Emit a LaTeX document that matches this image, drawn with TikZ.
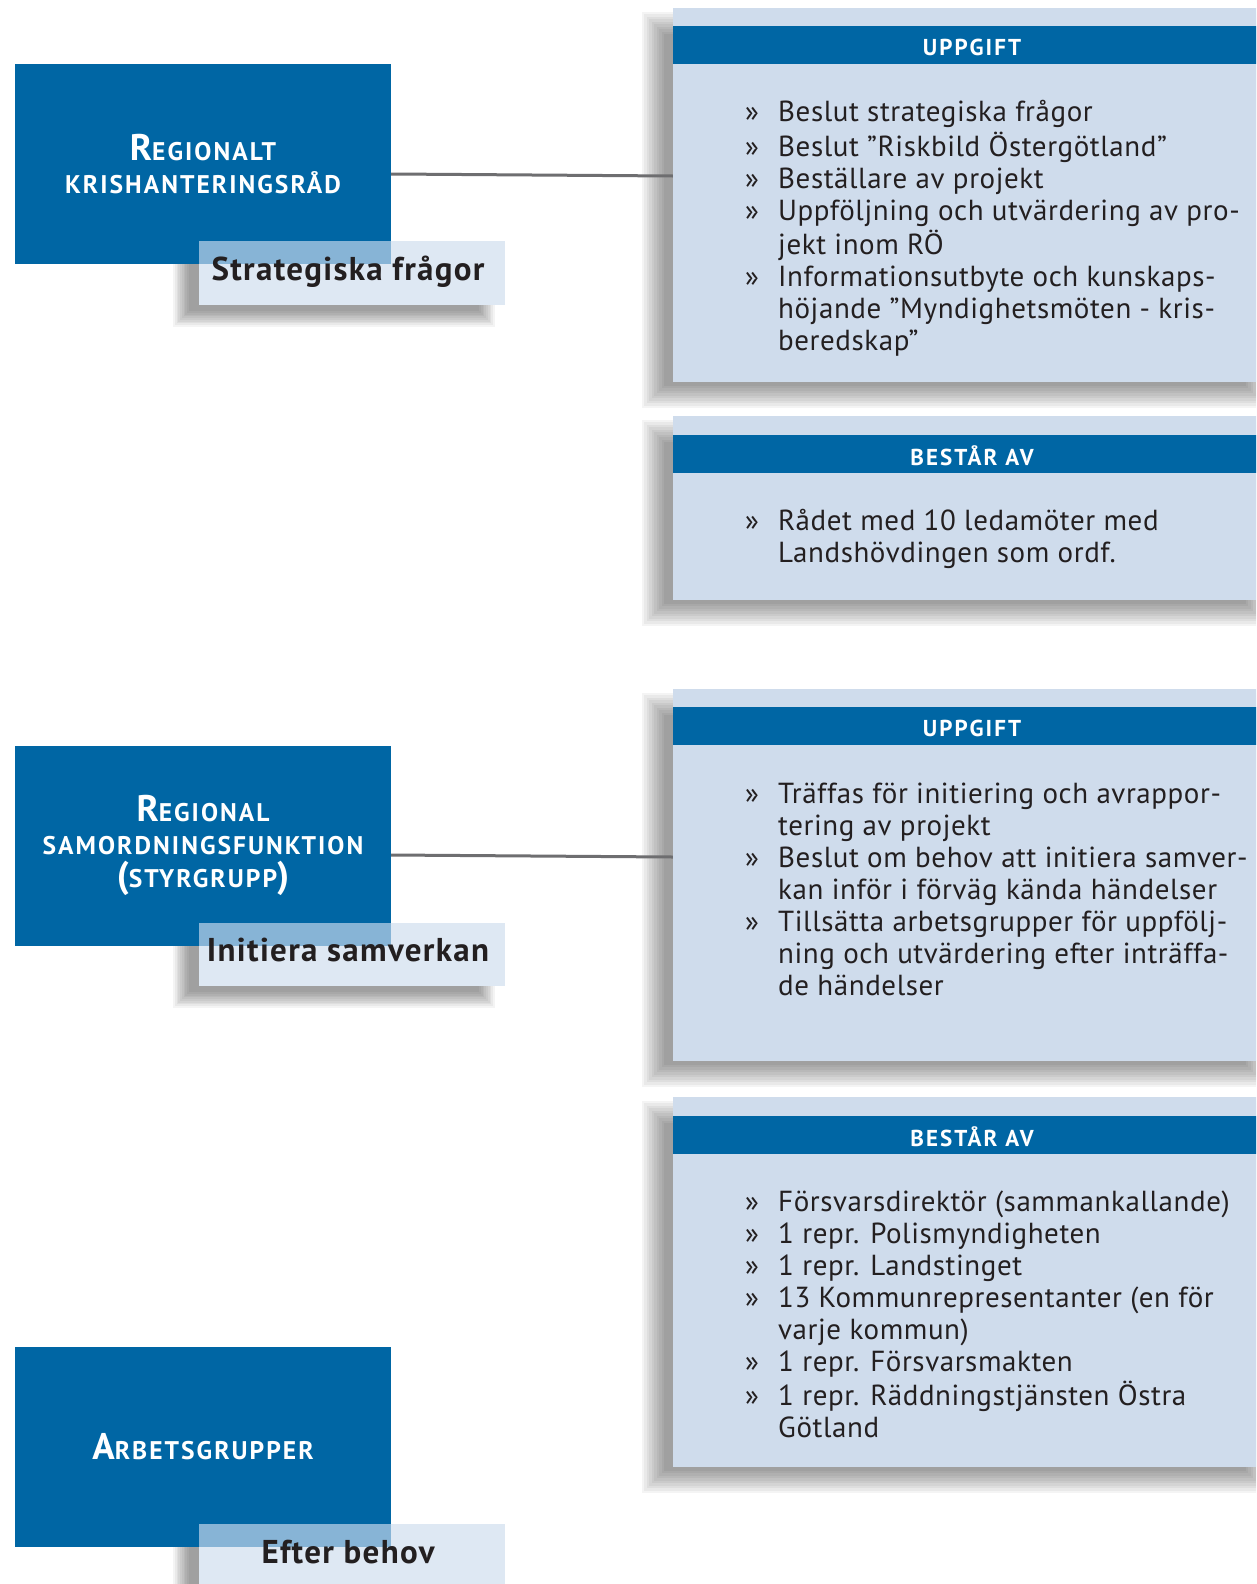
\documentclass[tikz,border=0pt]{standalone}
\usepackage{fontspec}
\setmainfont{PT Sans}[LetterSpace=2]
\newfontfamily\titlefont{PT Sans}[LetterSpace=8]
\newfontfamily\headfont{PT Sans}[LetterSpace=9]
\newfontfamily\labelfont{PT Sans}[LetterSpace=4]
\definecolor{kblue}{RGB}{0,102,164}
\definecolor{kpanel}{RGB}{207,220,236}
\definecolor{klabel}{RGB}{222,232,243}
\definecolor{kover}{RGB}{135,180,214}
\definecolor{kline}{RGB}{110,110,112}
\definecolor{ktext}{RGB}{35,31,32}
\newcommand\softshadow[5]{%
  \foreach \k in {1,...,10}{%
    \pgfmathsetmacro\shd{#5*(1-(\k-1)/4.5)}%
    \fill[black,opacity=0.042] (#1-\shd,#2-\shd) rectangle (#3+\shd,#4+\shd);}}
\newcommand\BigL[1]{{\fontsize{37}{33}\selectfont #1}}
\tikzset{
  bluebox/.style={fill=kblue, text=white, minimum width=376pt, minimum height=200pt,
    inner sep=0pt, align=center, font=\titlefont\bfseries\fontsize{25.5}{33}\selectfont},
  labelbox/.style={fill=klabel, minimum width=306pt, minimum height=64pt, inner sep=0pt},
  labeltext/.style={anchor=base, inner sep=0pt, text=ktext, font=\labelfont\bfseries\fontsize{33}{33}\selectfont},
  panelbox/.style={fill=kpanel, minimum width=602pt, inner sep=0pt},
  headbar/.style={fill=kblue, minimum width=602pt, minimum height=38pt, inner sep=0pt},
  headtext/.style={inner sep=0pt, text=white, font=\headfont\bfseries\fontsize{23}{24}\selectfont},
  listtext/.style={anchor=base west, inner sep=0pt, text=ktext, align=left,
    font=\fontsize{29}{32.1}\selectfont},
  connector/.style={draw=kline, line width=3pt}
}
\newcommand\blist[1]{\begin{tabular}[t]{@{}p{33pt}@{}l@{}}#1\end{tabular}}
\begin{document}
\begin{tikzpicture}[x=1pt,y=-1pt]
\useasboundingbox (0,0) rectangle (1256,1584);
\clip (0,0) rectangle (1256,1584);
\fill[white] (0,0) rectangle (1256,1584);

% shadows
\softshadow{653}{23}{1257}{397}{11}
\softshadow{653}{431}{1257}{615}{11}
\softshadow{653}{704}{1257}{1076}{11}
\softshadow{653}{1112}{1257}{1482}{11}
\softshadow{181}{255}{487}{319}{8}
\softshadow{181}{937}{487}{1000}{8}
\softshadow{181}{1538}{487}{1602}{8}

% panels
\node[panelbox, minimum height=374pt] (p1) at (974,195) {};
\node[headbar] (h1) at (974,45) {};
\node[headtext] (ht1) at (972,47) {UPPGIFT};
\node[panelbox, minimum height=184pt] (p2) at (974,508) {};
\node[headbar] (h2) at (974,453.5) {};
\node[headtext] (ht2) at (972,455.5) {BESTÅR AV};
\node[panelbox, minimum height=372pt] (p3) at (974,875) {};
\node[headbar] (h3) at (974,726) {};
\node[headtext] (ht3) at (972,728) {UPPGIFT};
\node[panelbox, minimum height=370pt] (p4) at (974,1282) {};
\node[headbar] (h4) at (974,1135) {};
\node[headtext] (ht4) at (972,1137) {BESTÅR AV};

% blue boxes
\node[bluebox] (b1) at (203,164) {\BigL{R}EGIONALT\\KRISHANTERINGSRÅD};
\node[bluebox] (b2) at (203,845.5) {\BigL{R}EGIONAL\\SAMORDNINGSFUNKTION\\\BigL{(}STYRGRUPP\BigL{)}};
\node[bluebox] (b3) at (203,1446.5) {\BigL{A}RBETSGRUPPER};

% labels
\node[labelbox] (l1) at (352,273) {};
\fill[kover] (l1.north west) rectangle (b1.south east);
\node[labeltext] (lt1) at (348,280) {Strategiska frågor};
\node[labelbox, minimum height=63pt] (l2) at (352,954.5) {};
\fill[kover] (l2.north west) rectangle (b2.south east);
\node[labeltext] (lt2) at (348,961) {Initiera samverkan};
\node[labelbox] (l3) at (352,1556) {};
\fill[kover] (l3.north west) rectangle (b3.south east);
\node[labeltext] (lt3) at (348,1563) {Efter behov};

% connectors
\draw[connector] ([yshift=-10pt]b1.east) -- ([yshift=19pt]p1.west);
\draw[connector] ([yshift=-9.5pt]b2.east) -- ([yshift=18pt]p3.west);

% list texts
\node[listtext] (t1) at (745,122) {\blist{%
»& Beslut strategiska frågor\\
»& Beslut ”Riskbild Östergötland”\\
»& Beställare av projekt\\
»& Uppföljning och utvärdering av pro-\\
 & jekt inom RÖ\\
»& Informationsutbyte och kunskaps-\\
 & höjande ”Myndighetsmöten - kris-\\
 & beredskap”}};
\node[listtext] (t2) at (745,530) {\blist{%
»& Rådet med 10 ledamöter med\\
 & Landshövdingen som ordf.}};
\node[listtext] (t3) at (745,803) {\blist{%
»& Träffas för initiering och avrappor-\\
 & tering av projekt\\
»& Beslut om behov att initiera samver-\\
 & kan inför i förväg kända händelser\\
»& Tillsätta arbetsgrupper för uppfölj-\\
 & ning och utvärdering efter inträffa-\\
 & de händelser}};
\node[listtext] (t4) at (745,1211) {\blist{%
»& Försvarsdirektör (sammankallande)\\
»& 1 repr. Polismyndigheten\\
»& 1 repr. Landstinget\\
»& 13 Kommunrepresentanter (en för\\
 & varje kommun)\\
»& 1 repr. Försvarsmakten\\
»& 1 repr. Räddningstjänsten Östra\\
 & Götland}};
\end{tikzpicture}
\end{document}
